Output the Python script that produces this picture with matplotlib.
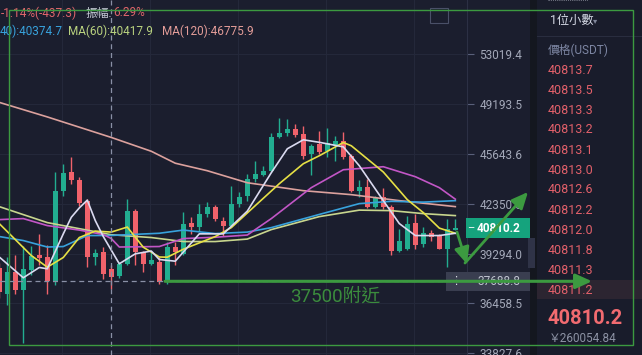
import matplotlib.pyplot as plt
from matplotlib.patches import Rectangle, FancyArrowPatch
from matplotlib.ticker import NullLocator

# -----------------------------------------------------------------------------
# data (prices in USDT, one candle per index)
# -----------------------------------------------------------------------------
opens = [38422, 36993, 38209, 37215, 38306, 39178, 39078, 37641, 43138, 44383,
         43880, 42541, 39078, 39371, 38403, 37964, 38693, 41908, 39371, 38693,
         38786, 37641, 39668, 39277, 41119, 40874, 41702, 42161, 41285, 40978,
         42332, 42862, 43947, 44231, 44496, 46822, 47082, 47365, 47012, 45622,
         46313, 45849, 46195, 46541, 45508, 43138, 43444, 42161, 42752, 42161,
         39471, 39572, 41119, 39870, 40508, 40369, 39572, 40700]
highs = [38767, 39078, 39178, 39769, 39769, 40490, 39829, 44383, 44966, 45389,
         44099, 42669, 39590, 39668, 38595, 38786, 42650, 42016, 39471, 39471,
         39078, 39966, 39966, 41802, 41491, 42332, 42433, 42288, 41491, 43509,
         43073, 44278, 45167, 44830, 47124, 48192, 48078, 47722, 47600, 46313,
         47244, 47436, 46893, 47195, 45622, 43880, 43947, 42862, 43358, 42288,
         40774, 41596, 41702, 40915, 40713, 40472, 41391, 41391]
lows = [36734, 36351, 36993, 34340, 38021, 38595, 36955, 37456, 42862, 43619,
        42225, 38497, 38595, 37833, 37271, 37890, 38595, 38595, 38209, 38650,
        37512, 37552, 38595, 39178, 40472, 40671, 41491, 41285, 40369, 40874,
        42117, 42541, 43723, 44165, 44383, 46731, 46893, 46773, 45281, 44231,
        45622, 45389, 45167, 45281, 43073, 42752, 42079, 42079, 42016, 39178,
        39412, 39513, 39572, 39709, 40025, 39572, 38497, 40680]
closes = [37065, 38209, 37176, 38403, 39119, 39043, 37697, 43138, 44317, 43880,
          42370, 39078, 39336, 38118, 37924, 38693, 41908, 39371, 38693, 38925,
          37641, 39668, 39412, 41082, 40874, 41702, 42117, 41391, 40935, 42332,
          42798, 43947, 44278, 44496, 46822, 47082, 47365, 46963, 45508, 46195,
          45732, 46422, 46541, 45436, 43138, 43444, 42161, 42714, 42117, 39471,
          40067, 41082, 39829, 40508, 40309, 39572, 40774, 40810.2]

# moving averages, sampled at candle indices
ma5_idx = [0, 3, 5, 6, 8, 9, 10, 11, 12, 13, 15, 17, 19, 20, 22, 25, 28, 31, 34,
           36, 38, 40, 43, 45, 48, 50, 52, 55, 57]
ma5 = [39090, 37890, 38480, 38403, 40472, 41491, 42079, 42573, 41285, 40309,
       38693, 39277, 39442, 38943, 38845, 40472, 40472, 41877, 44364, 45986,
       46611, 46436, 46118, 44830, 42541, 41101, 40369, 40369, 40508]
ma10_idx = [0, 2, 4, 6, 8, 10, 12, 14, 16, 18, 20, 21, 23, 27, 29, 32, 35, 38,
            40, 43, 44, 48, 51, 53, 55, 57]
ma10 = [41098, 40127, 39178, 38497, 39061, 40248, 40641, 40580, 40886, 39668,
        39090, 39078, 39548, 40309, 40853, 42225, 43638, 44966, 45508, 46422,
        46195, 44410, 42605, 41783, 40822, 40508]
ma20_idx = [0, 3, 6, 10, 13, 14, 15, 20, 23, 27, 31, 34, 39, 43, 48, 52, 55, 57]
ma20 = [41347, 41410, 40978, 40702, 40430, 40187, 39680, 39709, 40187, 40266,
        40400, 41410, 43379, 44562, 44764, 44099, 43379, 42636]
ma40_idx = [0, 3, 6, 8, 11, 14, 20, 23, 27, 31, 34, 40, 45, 49, 53, 57]
ma40 = [40309, 40067, 39680, 39709, 40369, 40375, 40508, 40702, 40490, 40580,
        40853, 41670, 42352, 42497, 42446, 42541]
ma60_idx = [0, 6, 14, 19, 23, 27, 31, 34, 40, 45, 49, 53, 57]
ma60 = [42161, 41162, 40418, 40248, 40007, 40007, 40156, 40732, 41533, 41940,
        41908, 41720, 41596]
ma120_idx = [0, 6, 14, 19, 22, 26, 31, 38, 44, 50, 57]
ma120 = [49305, 48240, 46776, 45814, 45000, 44496, 43700, 43183, 42926, 42541,
         42161]

tick_vals = [53019.4, 49193.5, 45643.6, 42350.0, 39294.0, 36458.5, 33827.6]
tick_labels = ['53019.4', '49193.5', '45643.6', '42350.0', '39294.0', '36458.5', '33827.6']

book_prices = ['40813.7', '40813.5', '40813.3', '40813.2', '40813.1', '40813.0',
               '40812.6', '40812.2', '40812.0', '40811.8', '40811.3', '40811.2']

cursor_idx = 14
cursor_price = 37688.8
last_price = 40810.2

# -----------------------------------------------------------------------------
# style
# -----------------------------------------------------------------------------
BG = '#1b1e2e'
GRID = '#24283a'
UP = '#22ad90'
DOWN = '#f0626b'
ANNOT = '#3c9a40'

plt.rcParams['font.family'] = ['Roboto', 'Noto Sans CJK TC', 'DejaVu Sans']

W, H = 642, 355
fig = plt.figure(figsize=(W / 100, H / 100), dpi=100, facecolor=BG)
ax = fig.add_axes([0, 0, 467 / W, 1])
ax.set_facecolor(BG)


def box(x0, y0, x1, y1, **kw):
    fig.add_artist(Rectangle((x0 / W, 1 - y1 / H), (x1 - x0) / W, (y1 - y0) / H,
                             transform=fig.transFigure, **kw))


def ftext(x, y, s, **kw):
    fig.text(x / W, 1 - y / H, s, **kw)


# -----------------------------------------------------------------------------
# candles + moving averages
# -----------------------------------------------------------------------------
ax.set_yscale('log')
ax.set_xlim(0.09, 58.46)
ax.set_ylim(33741, 57497)

idx = list(range(len(opens)))
colors = [UP if c >= o else DOWN for o, c in zip(opens, closes)]
bottoms = [min(o, c) for o, c in zip(opens, closes)]
heights = [max(abs(c - o), 0.0016 * o) for o, c in zip(opens, closes)]

ax.vlines(idx, lows, highs, colors=colors, linewidth=1, zorder=2)
ax.bar(idx, heights, bottom=bottoms, width=0.68, color=colors, zorder=3)

ax.plot(ma120_idx, ma120, color='#dca19d', lw=1.2, zorder=4)
ax.plot(ma60_idx, ma60, color='#c8d68e', lw=1.2, zorder=4)
ax.plot(ma40_idx, ma40, color='#38a2dc', lw=1.2, zorder=4)
ax.plot(ma20_idx, ma20, color='#c256c6', lw=1.2, zorder=4)
ax.plot(ma10_idx, ma10, color='#e6e045', lw=1.2, zorder=5)
ax.plot(ma5_idx, ma5, color='#dadaf0', lw=1.2, zorder=5)

# cursor cross-hair
ax.axvline(cursor_idx, color='#8a90a6', lw=0.9, ls=(0, (4, 3)), zorder=6)
ax.axhline(cursor_price, color='#8a90a6', lw=0.9, ls=(0, (4, 3)), zorder=6)

# axes, ticks, grid
for s in ['top', 'left', 'bottom']:
    ax.spines[s].set_visible(False)
ax.spines['right'].set_color('#2c3044')
ax.set_xticks([7.84, 18.84, 29.84, 40.84, 51.84])
ax.tick_params(axis='x', length=0, labelbottom=False)
ax.yaxis.tick_right()
ax.set_yticks(tick_vals)
ax.set_yticklabels(tick_labels)
ax.yaxis.set_minor_locator(NullLocator())
ax.tick_params(axis='y', length=5, width=0.8, color='#59607a',
               labelcolor='#a3a8b8', labelsize=8.5, pad=4)
ax.grid(color=GRID, lw=0.8, zorder=0)
ax.set_axisbelow(True)


def price_y(p):
    # pixel row (from top) of a price level
    return H - ax.transData.transform((1, p))[1]


# -----------------------------------------------------------------------------
# header legend
# -----------------------------------------------------------------------------
ftext(1, 13, '-1.14%(-437.3)', color='#e0656b', fontsize=8.5, va='center')
ftext(86, 13, '振幅:', color='#c4c8d4', fontsize=8.5, va='center')
ftext(113, 13, '6.29%', color='#e0656b', fontsize=8.5, va='center')
ftext(0, 31, '40):40374.7', color='#38a2dc', fontsize=8.5, va='center')
ftext(68, 31, 'MA(60):40417.9', color='#b9d27f', fontsize=8.5, va='center')
ftext(162, 31, 'MA(120):46775.9', color='#e39c98', fontsize=8.5, va='center')

# small expand icon
box(430, 8, 448, 23, fill=False, ec='#4a5068', lw=0.8)

# -----------------------------------------------------------------------------
# right side price labels
# -----------------------------------------------------------------------------
ly = price_y(last_price)
box(466, ly - 10, 530, ly + 10, fc='#15a37d', ec='none', zorder=8)
ftext(467, ly, '–', color='white', fontsize=8, va='center', zorder=9)
ftext(477, ly, '40810.2', color='white', fontsize=8.5, fontweight='bold',
      va='center', zorder=9)

cy = price_y(cursor_price)
box(446, cy - 9.5, 530, cy + 9.5, fc='#3a3e50', ec='none', zorder=8)
ftext(456, cy, '⋮', color='#d8dae2', fontsize=8, va='center', ha='center', zorder=9)
ftext(477, cy, '37688.8', color='#c0c4d0', fontsize=8.5, va='center', zorder=9)

box(528, 238, 535, 268, fc='#2f3347', ec='none', zorder=8)

# -----------------------------------------------------------------------------
# order book panel
# -----------------------------------------------------------------------------
box(530, 0, 537, H, fc='#14171f', ec='none', zorder=1)
box(537, 0, W, H, fc='#191c2b', ec='none', zorder=1)
box(537, 36, W, 37, fc='#292d3f', ec='none', zorder=2)
box(537, 280, W, 299, fc='#2c2531', ec='none', zorder=2)
ftext(547, 2, '·' * 22, color='#c8ccd8', fontsize=5, va='center')
ftext(550, 20, '1位小數', color='#d4d8e4', fontsize=8.8, va='center')
ftext(593, 21, '▾', color='#80869a', fontsize=6, va='center')
ftext(548, 50, '價格(USDT)', color='#7d86a3', fontsize=8.5, va='center')
for k, p in enumerate(book_prices):
    ftext(548, 70 + 20 * k, p, color='#e2606a', fontsize=9, va='center')
ftext(548, 318, '40810.2', color='#f26b70', fontsize=14.5, fontweight='bold',
      va='center')
ftext(549, 338, '￥260054.84', color='#8c92a4', fontsize=8.5, va='center')

# -----------------------------------------------------------------------------
# hand drawn annotations
# -----------------------------------------------------------------------------
box(9, 10, 633, 345, fill=False, ec=ANNOT, lw=1, zorder=10)


def arrow(x0, y0, x1, y1, lw=2.2):
    fig.add_artist(FancyArrowPatch((x0 / W, 1 - y0 / H), (x1 / W, 1 - y1 / H),
                                   transform=fig.transFigure,
                                   arrowstyle='-|>,head_length=0.55,head_width=0.25',
                                   mutation_scale=18, color=ANNOT, lw=lw,
                                   shrinkA=0, shrinkB=0, zorder=11))


arrow(165, cy, 592, cy)
arrow(457, 232, 467, 264, lw=2)
arrow(465, 263, 528, 192, lw=2)
ftext(290, 297, '37500附近', color='#3b8c3d', fontsize=13.5, va='center',
      family=['Roboto', 'Noto Sans CJK TC'])

fig.savefig('out.png', dpi=100, facecolor=BG)
